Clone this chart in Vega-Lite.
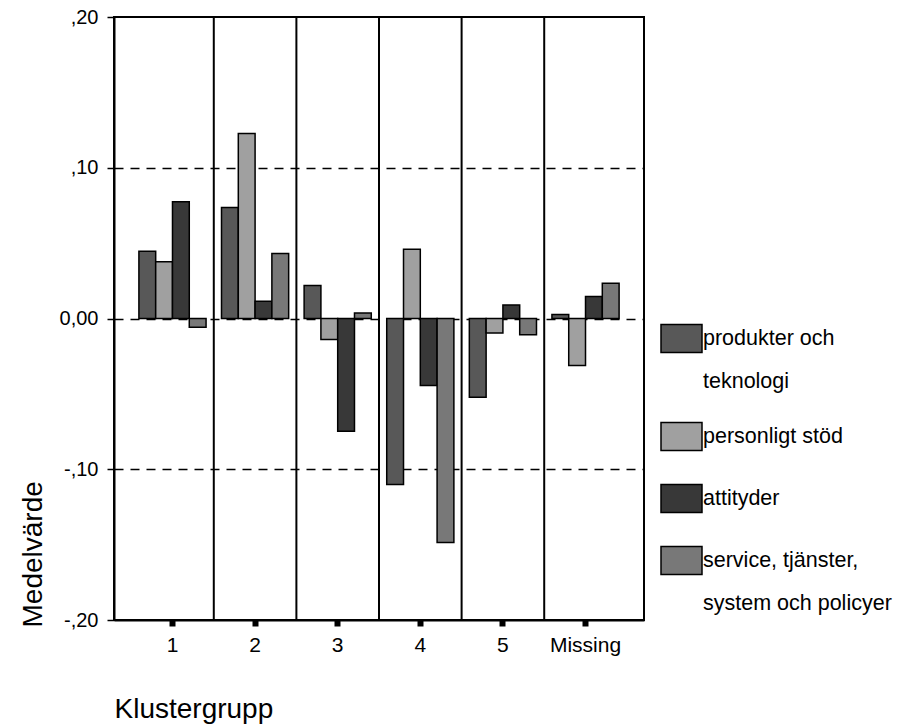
{
  "$schema": "https://vega.github.io/schema/vega-lite/v6.json",
  "width": 530,
  "height": 603,
  "autosize": {"type": "none"},
  "padding": {"left": 114, "top": 17, "right": 255, "bottom": 104},
  "background": "white",
  "config": {
    "font": "Liberation Sans",
    "view": {"stroke": "black", "strokeWidth": 2}
  },
  "data": {
    "values": [
      {"Klustergrupp": "1", "Kategori": "produkter och teknologi", "Medelvärde": 0.0446},
      {"Klustergrupp": "1", "Kategori": "personligt stöd", "Medelvärde": 0.0377},
      {"Klustergrupp": "1", "Kategori": "attityder", "Medelvärde": 0.0775},
      {"Klustergrupp": "1", "Kategori": "service, tjänster, system och policyer", "Medelvärde": -0.0058},
      {"Klustergrupp": "2", "Kategori": "produkter och teknologi", "Medelvärde": 0.0737},
      {"Klustergrupp": "2", "Kategori": "personligt stöd", "Medelvärde": 0.1228},
      {"Klustergrupp": "2", "Kategori": "attityder", "Medelvärde": 0.0115},
      {"Klustergrupp": "2", "Kategori": "service, tjänster, system och policyer", "Medelvärde": 0.0432},
      {"Klustergrupp": "3", "Kategori": "produkter och teknologi", "Medelvärde": 0.0219},
      {"Klustergrupp": "3", "Kategori": "personligt stöd", "Medelvärde": -0.0139},
      {"Klustergrupp": "3", "Kategori": "attityder", "Medelvärde": -0.0748},
      {"Klustergrupp": "3", "Kategori": "service, tjänster, system och policyer", "Medelvärde": 0.0037},
      {"Klustergrupp": "4", "Kategori": "produkter och teknologi", "Medelvärde": -0.1101},
      {"Klustergrupp": "4", "Kategori": "personligt stöd", "Medelvärde": 0.0459},
      {"Klustergrupp": "4", "Kategori": "attityder", "Medelvärde": -0.0444},
      {"Klustergrupp": "4", "Kategori": "service, tjänster, system och policyer", "Medelvärde": -0.1486},
      {"Klustergrupp": "5", "Kategori": "produkter och teknologi", "Medelvärde": -0.0523},
      {"Klustergrupp": "5", "Kategori": "personligt stöd", "Medelvärde": -0.0097},
      {"Klustergrupp": "5", "Kategori": "attityder", "Medelvärde": 0.009},
      {"Klustergrupp": "5", "Kategori": "service, tjänster, system och policyer", "Medelvärde": -0.0108},
      {"Klustergrupp": "Missing", "Kategori": "produkter och teknologi", "Medelvärde": 0.0026},
      {"Klustergrupp": "Missing", "Kategori": "personligt stöd", "Medelvärde": -0.0311},
      {"Klustergrupp": "Missing", "Kategori": "attityder", "Medelvärde": 0.0146},
      {"Klustergrupp": "Missing", "Kategori": "service, tjänster, system och policyer", "Medelvärde": 0.0234}
    ]
  },
  "layer": [
    {
      "transform": [
        {"filter": "datum.Klustergrupp != '1' && datum.Kategori == 'produkter och teknologi'"}
      ],
      "mark": {"type": "rule", "stroke": "black", "strokeWidth": 2},
      "encoding": {
        "x": {
          "field": "Klustergrupp",
          "type": "nominal",
          "bandPosition": 0,
          "scale": {"domain": ["1", "2", "3", "4", "5", "Missing"], "paddingInner": 0, "paddingOuter": 0.208},
          "axis": {
            "title": "Klustergrupp",
            "labelAngle": 0,
            "labelAlign": "center",
            "labelBaseline": "top",
            "tickSize": 6,
            "tickWidth": 6,
            "tickColor": "black",
            "domainColor": "black",
            "domainWidth": 2,
            "labelFontSize": 21,
            "labelColor": "black",
            "labelPadding": 8,
            "titleFontSize": 28,
            "titleFontWeight": "normal",
            "titleColor": "black",
            "titleAnchor": "start",
            "titleAlign": "left",
            "titleBaseline": "alphabetic",
            "titleX": 0,
            "titleY": 97
          }
        }
      }
    },
    {
      "mark": {"type": "bar", "stroke": "black", "strokeWidth": 1.5},
      "encoding": {
        "x": {
          "field": "Klustergrupp",
          "type": "nominal",
          "scale": {"domain": ["1", "2", "3", "4", "5", "Missing"], "paddingInner": 0, "paddingOuter": 0.208},
          "axis": {
            "title": "Klustergrupp",
            "labelAngle": 0,
            "labelAlign": "center",
            "labelBaseline": "top",
            "tickSize": 6,
            "tickWidth": 6,
            "tickColor": "black",
            "domainColor": "black",
            "domainWidth": 2,
            "labelFontSize": 21,
            "labelColor": "black",
            "labelPadding": 8,
            "titleFontSize": 28,
            "titleFontWeight": "normal",
            "titleColor": "black",
            "titleAnchor": "start",
            "titleAlign": "left",
            "titleBaseline": "alphabetic",
            "titleX": 0,
            "titleY": 97
          }
        },
        "xOffset": {
          "field": "Kategori",
          "type": "nominal",
          "scale": {
            "domain": ["produkter och teknologi", "personligt stöd", "attityder", "service, tjänster, system och policyer"],
            "paddingInner": 0,
            "paddingOuter": 0.46
          }
        },
        "y": {
          "field": "Medelvärde",
          "type": "quantitative",
          "scale": {"domain": [-0.2, 0.2], "nice": false},
          "axis": {
            "values": [-0.2, -0.1, 0, 0.1, 0.2],
            "labelExpr": "datum.value == 0 ? '0,00' : (datum.value < 0 ? '-' : '') + ',' + format(abs(datum.value) * 100, '02.0f')",
            "grid": true,
            "gridDash": [9, 7],
            "gridColor": "black",
            "gridWidth": 1.5,
            "gridOpacity": {"condition": {"test": "abs(datum.value) > 0.15", "value": 0}, "value": 1},
            "tickSize": 7,
            "tickWidth": 1.5,
            "tickColor": "black",
            "domainColor": "black",
            "domainWidth": 2,
            "labelFontSize": 20,
            "labelColor": "black",
            "labelPadding": 9,
            "title": "Medelvärde",
            "titleFontSize": 28,
            "titleFontWeight": "normal",
            "titleColor": "black",
            "titleAngle": 270,
            "titleAlign": "left",
            "titleBaseline": "alphabetic",
            "titleX": -73,
            "titleY": 610
          }
        },
        "color": {
          "field": "Kategori",
          "type": "nominal",
          "scale": {
            "domain": ["produkter och teknologi", "personligt stöd", "attityder", "service, tjänster, system och policyer"],
            "range": ["#585858", "#a0a0a0", "#383838", "#787878"]
          },
          "legend": {
            "orient": "none",
            "legendX": 546,
            "legendY": 300,
            "title": null,
            "symbolType": "M-1,-0.68H1V0.68H-1Z",
            "symbolSize": 1681,
            "symbolStrokeColor": "black",
            "symbolStrokeWidth": 1.5,
            "symbolOpacity": 1,
            "labelFontSize": 21.5,
            "labelColor": "black",
            "labelLimit": 0,
            "labelOffset": 0,
            "rowPadding": 23,
            "labelExpr": "datum.label == 'produkter och teknologi' ? ['produkter och', 'teknologi'] : datum.label == 'service, tjänster, system och policyer' ? ['service, tjänster,', 'system och policyer'] : datum.label",
            "encode": {"labels": {"update": {"lineHeight": {"value": 43}}}}
          }
        }
      }
    }
  ]
}
